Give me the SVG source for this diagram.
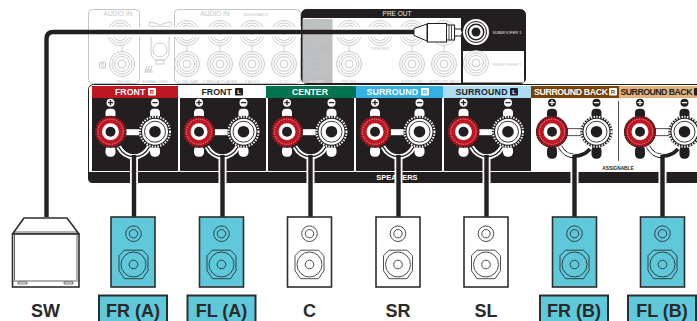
<svg xmlns="http://www.w3.org/2000/svg" xmlns:xlink="http://www.w3.org/1999/xlink" width="697" height="321" viewBox="0 0 697 321">
<style>
text{font-family:"Liberation Sans",Arial,sans-serif}
.j{fill:none;stroke:#c4c5c7;stroke-width:.9}
.g{fill:#c4c5c7;font-size:4.3px;text-anchor:middle}
.hd{font-size:8.8px;font-weight:700;text-anchor:start}
.big{font-size:18px;font-weight:700;text-anchor:middle;fill:#2b2a2b}
.sp{stroke:#2f2e2f;stroke-width:1.6}
.th{fill:none;stroke:#231f20;stroke-width:.8}
.w{fill:none;stroke:#231f20;stroke-width:4.4}
.halo{fill:none;stroke:#fff;stroke-width:8}
.lab{fill:#5fc8da;stroke:#2f2e2f;stroke-width:2}
.t{font-size:6px;font-weight:700;text-anchor:middle}
</style>
<defs>
<g id="jack"><circle class="j" r="12.5"/><circle class="j" r="10"/><circle class="j" r="7.5"/><circle class="j" r="4"/></g>
<g id="red">
<circle r="16" fill="#231f20"/><circle r="15.500" fill="#be1622"/>
<circle r="14.800" fill="none" stroke="#231f20" stroke-width="1.800" stroke-dasharray="1.200 1.600"/>
<circle r="12.600" fill="none" stroke="#f4c9cc" stroke-width=".7" stroke-dasharray="1.200 1.200"/>
<circle r="8.500" fill="#fff"/><circle r="5" fill="#231f20"/>
</g>
<g id="white">
<circle r="16" fill="#231f20"/><circle r="15" fill="none" stroke="#fff" stroke-width="2" stroke-dasharray="1.400 1.400"/>
<circle r="13" fill="#fff"/><circle r="10.500" fill="none" stroke="#231f20" stroke-width=".9"/><circle r="5.800" fill="#231f20"/>
</g>
<g id="pairK">
<g fill="#fff">
<rect x="-5" y="-23" width="10" height="10" rx="4"/><rect x="-5" y="14" width="10" height="11" rx="4.5"/>
<rect x="39.500" y="-23" width="10" height="10" rx="4"/><rect x="39.500" y="14" width="10" height="11" rx="4.5"/>
<rect x="15" y="-2.500" width="15" height="6"/>
<circle cy="-29" r="4"/><circle cx="44.500" cy="-29" r="4"/>
</g>
<path d="M-2.600-29H2.600M0-31.600V-26.400M41.900-29H47.100" stroke="#231f20" stroke-width="1.300" fill="none"/>
<use xlink:href="#red"/><use xlink:href="#white" x="44.500"/>
</g>
<g id="pairW">
<g fill="#231f20">
<rect x="-5" y="-23" width="10" height="10" rx="4"/><rect x="-5" y="14" width="10" height="13" rx="4.500"/>
<rect x="39.500" y="-23" width="10" height="10" rx="4"/><rect x="39.500" y="14" width="10" height="13" rx="4.500"/>
<circle cy="-29" r="4"/><circle cx="44.500" cy="-29" r="4"/>
</g>
<rect x="12" y="-3" width="20" height="7" fill="#fff" stroke="#231f20" stroke-width=".8"/>
<path d="M-2.600-29H2.600M0-31.600V-26.400M41.900-29H47.100" stroke="#fff" stroke-width="1.300" fill="none"/>
<use xlink:href="#red"/><use xlink:href="#white" x="44.500"/>
</g>
<g id="spk">
<circle class="th" cx="22" cy="17" r="7.800"/><circle class="th" cx="22" cy="17" r="4.200"/>
<path class="th" d="M13 33.500H31L36.500 39V54L31 62H13L7.500 54V39Z" stroke-linejoin="round"/>
<circle class="th" cx="22" cy="47.800" r="12.500"/><circle class="th" cx="22" cy="47.800" r="4.300"/>
</g>
</defs>

<g id="audio-inputs">
<rect x="88.500" y="9.500" width="51" height="74" rx="4" fill="#fff" stroke="#c4c5c7"/>
<rect x="174.500" y="9.500" width="126" height="74" rx="4" fill="#fff" stroke="#c4c5c7"/>
<text x="118" y="16" fill="#c4c5c7" font-size="6.500" text-anchor="middle">AUDIO IN</text>
<text x="215" y="16" fill="#c4c5c7" font-size="6.500" text-anchor="middle">AUDIO IN</text>
<text x="256" y="15.500" fill="#c4c5c7" font-size="3.600" text-anchor="middle">(ASSIGNABLE)</text>
<use xlink:href="#jack" x="120" y="33"/><use xlink:href="#jack" x="122" y="64"/>
<use xlink:href="#jack" x="187" y="33"/><use xlink:href="#jack" x="187" y="64"/>
<use xlink:href="#jack" x="220" y="33"/><use xlink:href="#jack" x="220" y="64"/>
<use xlink:href="#jack" x="252" y="33"/><use xlink:href="#jack" x="252" y="64"/>
<use xlink:href="#jack" x="284" y="33"/><use xlink:href="#jack" x="284" y="64"/>
<path class="j" d="M122 45V52M187 45V52M220 45V52M252 45V52M284 45V52"/>
<rect x="99.500" y="62" width="6" height="6" rx="1" fill="none" stroke="#c4c5c7"/>
<text x="102.500" y="67" fill="#c4c5c7" font-size="5" text-anchor="middle">R</text>
<path class="j" d="M150 22Q156 23 160 25Q164 23 171 22Q173 25 170 27Q164 25 160 27Q155 25 150 27Q148 25 150 22ZM151 32V52Q151 59 157 60H163Q169 59 169 52V32"/>
<circle class="j" cx="160" cy="50" r="7"/><rect class="j" x="156" y="60" width="8" height="4"/>
<path class="j" d="M144 72H153M145 72L147 66M147.500 72L149.500 66M150 72L152 66M145 70H152"/>
<text class="g" x="124" y="82.500">PHONO</text><text class="g" x="155" y="82.500">SIGNAL GND</text>
<text class="g" x="188" y="82.500">1 CBL/SAT</text><text class="g" x="220" y="82.500">2 MEDIA PLAYER</text>
<text class="g" x="252" y="82.500">3 AUX1</text><text class="g" x="284" y="82.500">4 CD</text>
</g>

<g id="pre-out">
<rect x="301.500" y="9.500" width="224" height="74" rx="5" fill="#231f20" stroke="#231f20"/>
<rect x="303" y="18" width="158" height="65" fill="#fff"/>
<rect x="463" y="51" width="61" height="31.500" fill="#fff"/>
<rect x="302.500" y="19" width="30" height="64" fill="#bcbec0"/>
<text x="397" y="15.500" fill="#e8e8e8" font-size="6.500" text-anchor="middle">PRE OUT</text>
<use xlink:href="#jack" x="317" y="33"/><use xlink:href="#jack" x="317" y="64"/>
<use xlink:href="#jack" x="349" y="33"/><use xlink:href="#jack" x="349" y="64"/>
<use xlink:href="#jack" x="380" y="33"/>
<use xlink:href="#jack" x="412" y="33"/><use xlink:href="#jack" x="412" y="64"/>
<use xlink:href="#jack" x="444" y="33"/><use xlink:href="#jack" x="444" y="64"/>
<use xlink:href="#jack" x="476" y="63"/>
<path class="j" d="M317 45V52M349 45V52M412 45V52M444 45V52"/>
<circle cx="476" cy="32" r="13" fill="#fff"/><circle cx="476" cy="32" r="10.500" fill="none" stroke="#231f20"/><circle cx="476" cy="32" r="8.500" fill="#231f20"/><circle cx="476" cy="32" r="7" fill="#fff"/><circle cx="476" cy="32" r="4.500" fill="#231f20"/>
<text x="507" y="34" fill="#e8e8e8" font-size="3.900" text-anchor="middle">SUBWOOFER 1</text>
<text x="507" y="66" fill="#c4c5c7" font-size="3.900" text-anchor="middle">SUBWOOFER 2</text>
<text class="g" x="317" y="82.500" style="fill:#e4e4e4">ZONE2</text>
<text class="g" x="349" y="82.500">FRONT</text><text class="g" x="380" y="50">CENTER</text>
<text class="g" x="412" y="82.500" style="font-size:3.800px">SURROUND</text><text class="g" x="444" y="82.500" style="font-size:3.500px">SURROUND BACK</text>
</g>

<g id="speaker-panel">
<rect x="88.500" y="84.500" width="640" height="98" rx="5" fill="#fff" stroke="#231f20"/>
<path d="M88 172H697V183H93Q88 183 88 178Z" fill="#231f20"/>
<g fill="#231f20">
<rect x="92" y="98" width="86" height="73"/><rect x="180" y="98" width="86" height="73"/>
<rect x="268" y="98" width="86" height="73"/><rect x="356" y="98" width="86" height="73"/>
<rect x="444" y="98" width="87" height="73"/>
</g>
<rect x="92" y="86" width="86" height="12" fill="#be1622"/>
<rect x="266" y="86" width="90" height="12" fill="#00744f"/>
<rect x="356" y="86" width="87" height="12" fill="#35b0e5"/>
<rect x="443" y="86" width="88" height="12" fill="#aedcf3"/>
<rect x="531" y="86" width="88" height="12" fill="#7b4100"/>
<rect x="619" y="86" width="78" height="12" fill="#e0b27c"/>
<path d="M618.500 101V161" stroke="#231f20" stroke-width=".8"/>
<text class="hd" x="115" y="95" fill="#fff">FRONT</text><rect x="148" y="88" width="8" height="7.500" rx="1" fill="#fff"/><text class="t" x="152" y="94" fill="#be1622">R</text>
<text class="hd" x="201.500" y="95" fill="#231f20">FRONT</text><rect x="235" y="88" width="8" height="7.500" rx="1" fill="#231f20"/><text class="t" x="239" y="94" fill="#fff">L</text>
<text class="hd" x="310" y="95" fill="#fff" style="text-anchor:middle">CENTER</text>
<text class="hd" x="366.500" y="95" fill="#fff" textLength="51.500">SURROUND</text><rect x="421" y="88" width="8" height="7.500" rx="1" fill="#fff"/><text class="t" x="425" y="94" fill="#35b0e5">R</text>
<text class="hd" x="455.500" y="95" fill="#231f20" textLength="52">SURROUND</text><rect x="510" y="88" width="8" height="7.500" rx="1" fill="#231f20"/><text class="t" x="514" y="94" fill="#fff">L</text>
<text class="hd" x="534" y="95" fill="#fff" textLength="74">SURROUND BACK</text><rect x="609" y="88" width="8" height="7.500" rx="1" fill="#fff"/><text class="t" x="613" y="94" fill="#7b4100">R</text>
<text class="hd" x="620.500" y="95" fill="#231f20" textLength="72">SURROUND BACK</text><rect x="694" y="88" width="8" height="7.500" rx="1" fill="#231f20"/>
<use xlink:href="#pairK" x="110.500" y="131.700"/><use xlink:href="#pairK" x="199" y="131.700"/>
<use xlink:href="#pairK" x="287" y="131.700"/><use xlink:href="#pairK" x="375" y="131.700"/>
<use xlink:href="#pairK" x="463.500" y="131.700"/>
<use xlink:href="#pairW" x="552" y="131.700"/><use xlink:href="#pairW" x="640" y="131.700"/>
<text x="397" y="180" fill="#fff" font-size="7.500" font-weight="700" text-anchor="middle">SPEAKERS</text>
<text x="618" y="170" fill="#231f20" font-size="4.800" font-weight="700" text-anchor="middle">ASSIGNABLE</text>
</g>

<g id="connectors">
<path d="M89 32H301M333 32H414" fill="none" stroke="#fff" stroke-width="10"/>
<path d="M46.500 217V39Q46.500 32 53.500 32H414" fill="none" stroke="#231f20" stroke-width="4.400"/>
<path d="M414 28.500L427 24V41L414 35.500Z" fill="#fff" stroke="#231f20"/>
<rect x="427.500" y="23.500" width="19" height="18.500" fill="#fff" stroke="#231f20"/>
<rect x="446.500" y="25" width="8" height="15" fill="#fff" stroke="#231f20"/>
<path d="M449 25V40M451.500 25V40" stroke="#231f20" stroke-width=".8"/>
<path d="M454.500 29H461Q463.500 32.500 461 36H454.500Z" fill="#fff" stroke="#231f20"/>
<path class="halo" d="M134 155V183M222.500 155V183M310.500 155V183M398.500 155V183M486.500 155V183M574.500 155V183M662.500 155V183"/>
<g fill="none" stroke="#fff" stroke-width="5">
<path d="M118.500 146.700Q124 156.700 134 156.700Q144 156.700 149.500 146.700"/>
<path d="M207 146.700Q212.500 156.700 222.500 156.700Q232.500 156.700 238 146.700"/>
<path d="M295 146.700Q300.500 156.700 310.500 156.700Q320.500 156.700 326 146.700"/>
<path d="M383 146.700Q388.500 156.700 398.500 156.700Q408.500 156.700 414 146.700"/>
<path d="M471.500 146.700Q477 156.700 487 156.700Q497 156.700 502.500 146.700"/>
</g>
<g fill="none" stroke="#231f20" stroke-width="1.300">
<path d="M118.500 146.700Q124 156.700 134 156.700Q144 156.700 149.500 146.700"/>
<path d="M207 146.700Q212.500 156.700 222.500 156.700Q232.500 156.700 238 146.700"/>
<path d="M295 146.700Q300.500 156.700 310.500 156.700Q320.500 156.700 326 146.700"/>
<path d="M383 146.700Q388.500 156.700 398.500 156.700Q408.500 156.700 414 146.700"/>
<path d="M471.500 146.700Q477 156.700 487 156.700Q497 156.700 502.500 146.700"/>
</g>
<g fill="none">
<path d="M560 146.500Q565 156 574.500 156" stroke="#231f20" stroke-width="4.500"/>
<path d="M560 146.500Q565 156 574.500 156" stroke="#fff" stroke-width="2.800"/>
<path d="M574.500 156Q584 156 590 149" stroke="#231f20" stroke-width="3.500"/>
<path d="M648 146.500Q653 156 662.500 156" stroke="#231f20" stroke-width="4.500"/>
<path d="M648 146.500Q653 156 662.500 156" stroke="#fff" stroke-width="2.800"/>
<path d="M662.500 156Q672 156 678 149" stroke="#231f20" stroke-width="3.500"/>
</g>
<path class="w" d="M134 155V217M222.500 155V217M310.500 155V217M398.500 155V217M486.500 155V217M574.500 155V217M662.500 155V217"/>
</g>

<g id="node-sw">
<path d="M24 218H67L79 234H12.500Z" fill="#fff" class="sp" stroke-linejoin="round"/>
<rect x="12.500" y="234" width="66.500" height="53" fill="#fff" class="sp"/>
<path d="M14.500 235V280M77 235V280M13 232H78M13 281H79" fill="none" stroke="#231f20" stroke-width=".7"/>
<path d="M18 282H27V284H18ZM64 282H73V284H64Z" fill="none" stroke="#231f20" stroke-width=".6"/>
<text class="big" x="45.500" y="317">SW</text>
</g>
<g id="node-fr-a"><rect x="111" y="217" width="44" height="70" fill="#5fc8da" class="sp"/><use xlink:href="#spk" x="111.500" y="216.700"/>
<rect class="lab" x="99" y="295.500" width="68" height="30"/><text class="big" x="133" y="317">FR (A)</text></g>
<g id="node-fl-a"><rect x="199.500" y="217" width="44" height="70" fill="#5fc8da" class="sp"/><use xlink:href="#spk" x="199.500" y="216.700"/>
<rect class="lab" x="187.500" y="295.500" width="68" height="30"/><text class="big" x="221.500" y="317">FL (A)</text></g>
<g id="node-c"><rect x="287.500" y="217" width="44" height="70" fill="#fff" class="sp"/><use xlink:href="#spk" x="287.500" y="216.700"/><text class="big" x="309.500" y="317">C</text></g>
<g id="node-sr"><rect x="376" y="217" width="44" height="70" fill="#fff" class="sp"/><use xlink:href="#spk" x="376" y="216.700"/><text class="big" x="398" y="317">SR</text></g>
<g id="node-sl"><rect x="464" y="217" width="44" height="70" fill="#fff" class="sp"/><use xlink:href="#spk" x="464" y="216.700"/><text class="big" x="486" y="317">SL</text></g>
<g id="node-fr-b"><rect x="552.500" y="217" width="44" height="70" fill="#5fc8da" class="sp"/><use xlink:href="#spk" x="552.500" y="216.700"/>
<rect class="lab" x="540" y="295.500" width="68" height="30"/><text class="big" x="574" y="317">FR (B)</text></g>
<g id="node-fl-b"><rect x="640.500" y="217" width="44" height="70" fill="#5fc8da" class="sp"/><use xlink:href="#spk" x="640.500" y="216.700"/>
<rect class="lab" x="628" y="295.500" width="68" height="30"/><text class="big" x="662" y="317">FL (B)</text></g>
</svg>
